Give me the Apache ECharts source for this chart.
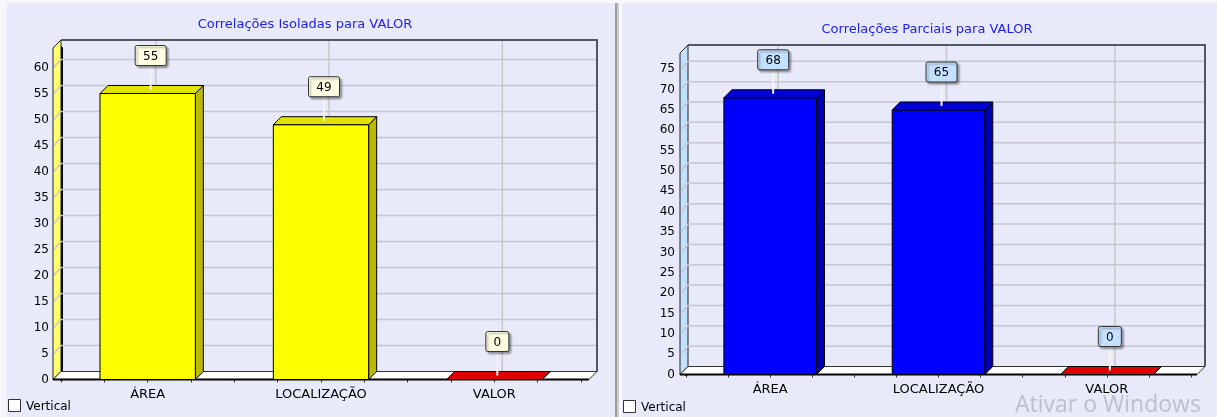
<!DOCTYPE html>
<html><head><meta charset="utf-8">
<script src="https://cdn.jsdelivr.net/npm/echarts@6/dist/echarts.min.js"></script>
<style>html,body{margin:0;padding:0;background:#fff}#c{width:1217px;height:417px}</style>
</head><body><div id="c"></div>
<script>
// ---- data ----
const categories = ['ÁREA', 'LOCALIZAÇÃO', 'VALOR'];
const isoladasValues = [55, 49, 0];
const parciaisValues = [68, 65, 0];
const isoladasTitle = 'Correlações Isoladas para VALOR';
const parciaisTitle = 'Correlações Parciais para VALOR';
const isoladasAxisMax = 63.75;
const parciaisAxisMax = 79;
const yTickStep = 5;
const checkboxLabel = 'Vertical';
const watermarkText = 'Ativar o Windows';

// ---- styling config ----
const FONT = '"DejaVu Sans", Verdana, sans-serif';
const charts = [
  { grid: { left: 61, top: 48, width: 520, height: 331.5 }, max: isoladasAxisMax, values: isoladasValues,
    ins: 8, axisOffset: 9, dx: 8, dy: 8, wall: '#FFFF70', labelFill: '#FFFFE4',
    faces: [['#FFFF00', '#E2E200', '#BABA00'], ['#FFFF00', '#E2E200', '#BABA00'], ['#FF0000', '#E00000', '#B00000']] },
  { grid: { left: 686, top: 53, width: 505, height: 321.5 }, max: parciaisAxisMax, values: parciaisValues,
    ins: 6, axisOffset: 8, dx: 8, dy: 8, wall: '#C2E0FF', labelFill: '#C4E2FF',
    faces: [['#0000FF', '#0000D6', '#0000B0'], ['#0000FF', '#0000D6', '#0000B0'], ['#FF0000', '#E00000', '#B00000']] }
];

function frameRenderer(cfg) {
  return function (params, api) {
    const cs = params.coordSys;
    const x0 = cs.x - cfg.ins, x1 = cs.x + cs.width + cfg.ins;
    const yb = api.coord([0, 0])[1];
    const yt = cs.y;
    const dx = cfg.dx, dy = cfg.dy;
    const grid = { stroke: '#C6C6CC', lineWidth: 1.5 };
    const ch = [];
    ch.push({ type: 'polygon', shape: { points: [[x0, yb], [x0, yt], [x0 + dx, yt - dy], [x0 + dx, yb - dy]] },
      style: { fill: cfg.wall, stroke: '#222', lineWidth: 1 } });
    for (let v = yTickStep; v < cfg.max; v += yTickStep) {
      const y = api.coord([0, v])[1];
      ch.push({ type: 'polyline', shape: { points: [[x0 + 1, y], [x0 + dx, y - dy], [x1 + dx, y - dy]] }, style: Object.assign({ fill: null }, grid) });
    }
    for (let i = 0; i < categories.length; i++) {
      const cx = api.coord([i, 0])[0];
      ch.push({ type: 'line', shape: { x1: cx + dx, y1: yt - dy, x2: cx + dx, y2: yb - dy }, style: grid });
    }
    ch.push({ type: 'polygon', shape: { points: [[x0, yb], [x1, yb], [x1 + dx, yb - dy], [x0 + dx, yb - dy]] },
      style: { fill: '#FFFFFF', stroke: '#333', lineWidth: 1 } });
    ch.push({ type: 'polyline', shape: { points: [[x0 + dx, yt - dy], [x1 + dx, yt - dy], [x1 + dx, yb - dy]] },
      style: { fill: null, stroke: '#525862', lineWidth: 2 } });
    ch.push({ type: 'line', shape: { x1: x0, y1: yb, x2: x1, y2: yb }, style: { stroke: '#000', lineWidth: 2 } });
    return { type: 'group', children: ch };
  };
}

function barRenderer(cfg) {
  return function (params, api) {
    const i = api.value(0), v = api.value(1);
    const top = api.coord([i, v]), base = api.coord([i, 0]);
    const bw = api.size([1, 0])[0] * 0.55;
    const xl = top[0] - bw / 2, xr = top[0] + bw / 2, yt = top[1], yb = base[1];
    const dx = cfg.dx, dy = cfg.dy;
    const f = cfg.faces[i];
    const ch = [];
    const outline = { stroke: '#000', lineWidth: 1 };
    ch.push({ type: 'polygon', shape: { points: [[xr, yt], [xr + dx, yt - dy], [xr + dx, yb - dy], [xr, yb]] }, style: Object.assign({ fill: f[2] }, outline) });
    if (yb - yt > 0.5) ch.push({ type: 'rect', shape: { x: xl, y: yt, width: bw, height: yb - yt }, style: Object.assign({ fill: f[0] }, outline) });
    ch.push({ type: 'polygon', shape: { points: [[xl, yt], [xr, yt], [xr + dx, yt - dy], [xl + dx, yt - dy]] }, style: Object.assign({ fill: f[1] }, outline) });
    const txt = String(v);
    const lw = 15 + 8 * txt.length, lh = 20;
    const lx = top[0] + 3, ly = yt - 38;
    ch.push({ type: 'line', shape: { x1: lx, y1: ly + lh / 2, x2: lx, y2: yt - 4 }, style: { stroke: '#F4F4F8', lineWidth: 2 } });
    ch.push({ type: 'rect', shape: { x: lx - lw / 2, y: ly - lh / 2, width: lw, height: lh, r: 2 },
      style: { fill: cfg.labelFill, stroke: '#333', lineWidth: 1, shadowColor: 'rgba(0,0,0,0.35)', shadowBlur: 2, shadowOffsetX: 2, shadowOffsetY: 2 } });
    ch.push({ type: 'text', style: { text: txt, x: lx, y: ly + 1, align: 'center', verticalAlign: 'middle', fill: '#000', font: '12px ' + FONT } });
    return { type: 'group', children: ch };
  };
}

const option = { animation: false, grid: [], xAxis: [], yAxis: [], series: [], graphic: [] };
charts.forEach((cfg, k) => {
  option.grid.push(Object.assign({ containLabel: false }, cfg.grid));
  option.xAxis.push({ type: 'category', gridIndex: k, data: categories, position: 'bottom',
    axisLine: { show: false }, axisTick: { show: false }, splitLine: { show: false },
    axisLabel: { color: '#000', fontSize: 13, fontFamily: FONT, margin: 9, interval: 0 } });
  option.xAxis.push({ type: 'value', gridIndex: k, min: 0, max: categories.length * 4, interval: 1, position: 'bottom',
    axisLine: { show: false }, axisLabel: { show: false }, splitLine: { show: false },
    axisTick: { show: true, length: 3, lineStyle: { color: '#333' } } });
  option.yAxis.push({ type: 'value', gridIndex: k, min: 0, max: cfg.max, interval: yTickStep, offset: cfg.axisOffset,
    axisLine: { show: true, lineStyle: { color: '#000', width: 3 } },
    axisTick: { show: true, length: 4, lineStyle: { color: '#000' } }, splitLine: { show: false },
    axisLabel: { color: '#000', fontSize: 12, fontFamily: FONT, margin: 3, formatter: v => (v % yTickStep === 0 ? String(v) : '') } });
  option.series.push({ type: 'custom', xAxisIndex: k * 2, yAxisIndex: k, clip: false, z: 1, silent: true,
    renderItem: frameRenderer(cfg), data: [[0, 0]] });
  option.series.push({ type: 'custom', xAxisIndex: k * 2, yAxisIndex: k, clip: false, z: 3, silent: true,
    renderItem: barRenderer(cfg), data: cfg.values.map((v, i) => [i, v]) });
});

option.graphic = [
  { type: 'rect', z: -10, shape: { x: 0, y: 0, width: 1217, height: 417 }, style: { fill: '#F6F6FC' } },
  { type: 'rect', z: -9, shape: { x: 7, y: 3, width: 608, height: 414 }, style: { fill: '#E8EAFA' } },
  { type: 'rect', z: -9, shape: { x: 615, y: 3, width: 2, height: 414 }, style: { fill: '#9C9C9C' } },
  { type: 'rect', z: -9, shape: { x: 617, y: 3, width: 2, height: 414 }, style: { fill: '#CFCFD2' } },
  { type: 'rect', z: -9, shape: { x: 622, y: 3, width: 595, height: 414 }, style: { fill: '#E8EAFA' } },
  { type: 'text', z: 5, style: { text: isoladasTitle, x: 305, y: 25, align: 'center', verticalAlign: 'middle', fill: '#2020F8', font: '13px ' + FONT } },
  { type: 'text', z: 5, style: { text: parciaisTitle, x: 927, y: 30, align: 'center', verticalAlign: 'middle', fill: '#2020F8', font: '13px ' + FONT } },
  { type: 'rect', z: 5, shape: { x: 8.5, y: 399.5, width: 12, height: 12 }, style: { fill: '#fff', stroke: '#333', lineWidth: 1 } },
  { type: 'text', z: 5, style: { text: checkboxLabel, x: 26, y: 406.5, verticalAlign: 'middle', fill: '#000', font: '12px ' + FONT } },
  { type: 'rect', z: 5, shape: { x: 623.5, y: 400.5, width: 12, height: 12 }, style: { fill: '#fff', stroke: '#333', lineWidth: 1 } },
  { type: 'text', z: 5, style: { text: checkboxLabel, x: 641, y: 407.5, verticalAlign: 'middle', fill: '#000', font: '12px ' + FONT } },
  { type: 'text', z: 6, style: { text: watermarkText, x: 1015, y: 405, verticalAlign: 'middle', fill: 'rgba(170,172,182,0.7)', font: '23px "Open Sans", sans-serif' } }
];

const chart = echarts.init(document.getElementById('c'), null, { renderer: 'canvas' });
chart.setOption(option);
</script></body></html>
